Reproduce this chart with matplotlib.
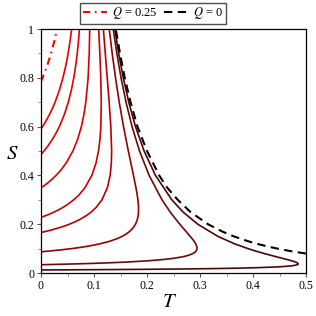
import matplotlib
matplotlib.use("Agg")
import matplotlib.pyplot as plt

plt.rcParams['font.family'] = ['Liberation Serif', 'DejaVu Serif']
plt.rcParams['mathtext.fontset'] = 'stix'

# Q = 0 (black dashed)
S_q0 = [0.0796, 0.09, 0.1, 0.11, 0.12, 0.13, 0.15, 0.17, 0.2, 0.25, 0.3, 0.35, 0.4, 0.5, 0.6, 0.7, 0.8, 0.9, 1.0]
T_q0 = [0.5, 0.470, 0.446, 0.425, 0.407, 0.391, 0.364, 0.342, 0.315, 0.282, 0.258, 0.238, 0.223, 0.200, 0.182, 0.169, 0.158, 0.149, 0.141]

# Q = 0.25 (red dash-dot)
S_q25 = [0.785, 0.8, 0.85, 0.9, 0.95, 1.0]
T_q25 = [0.0, 0.003, 0.0117, 0.019, 0.0251, 0.0303]

# solid family
S_1 = [0.59, 0.6, 0.62, 0.65, 0.675, 0.7, 0.75, 0.8, 0.85, 0.9, 0.95, 1.0]
T_1 = [0.0, 0.0030, 0.0087, 0.0161, 0.0216, 0.0265, 0.0348, 0.0414, 0.0468, 0.0512, 0.0548, 0.0579]

S_2 = [0.486, 0.49, 0.5, 0.52, 0.55, 0.575, 0.6, 0.65, 0.7, 0.75, 0.8, 0.85, 0.9, 0.95, 1.0]
T_2 = [0.0, 0.0017, 0.0056, 0.0128, 0.0221, 0.0288, 0.0346, 0.0441, 0.0515, 0.0573, 0.0619, 0.0655, 0.0684, 0.0707, 0.0725]

S_3 = [0.349, 0.353, 0.36, 0.37, 0.38, 0.4, 0.42, 0.45, 0.5, 0.55, 0.6, 0.65, 0.7, 0.8, 0.9, 1.0]
T_3 = [0.0, 0.0027, 0.0072, 0.0132, 0.0187, 0.0284, 0.0368, 0.0472, 0.0602, 0.0695, 0.0762, 0.0810, 0.0845, 0.0889, 0.0910, 0.0919]

S_4 = [0.228, 0.232, 0.24, 0.25, 0.26, 0.27, 0.28, 0.3, 0.32, 0.35, 0.4, 0.45, 0.5, 0.55, 0.6, 0.7, 0.8, 0.9, 1.0]
T_4 = [0.0, 0.0050, 0.0144, 0.0248, 0.0340, 0.0422, 0.0495, 0.0618, 0.0717, 0.0831, 0.0959, 0.1037, 0.1085, 0.1114, 0.1129, 0.1137, 0.1128, 0.1110, 0.1089]

S_5 = [0.166, 0.168, 0.17, 0.175, 0.18, 0.19, 0.2, 0.21, 0.22, 0.235, 0.25, 0.27, 0.3, 0.35, 0.4, 0.45, 0.5, 0.6, 0.7, 0.8, 0.9, 1.0]
T_5 = [0.0, 0.0041, 0.0080, 0.0173, 0.0259, 0.0409, 0.0536, 0.0645, 0.0738, 0.0854, 0.0948, 0.1046, 0.1150, 0.1253, 0.1305, 0.1327, 0.1333, 0.1317, 0.1286, 0.1250, 0.1213, 0.1177]

S_6 = [0.087, 0.09, 0.095, 0.1, 0.105, 0.11, 0.115, 0.12, 0.13, 0.14, 0.15, 0.16, 0.17, 0.18, 0.19, 0.2, 0.21, 0.22, 0.235, 0.25, 0.27, 0.285, 0.3, 0.325, 0.35, 0.4, 0.5, 0.6, 0.7, 0.8, 0.9, 1.0]
T_6 = [0.0, 0.0157, 0.0385, 0.0580, 0.0746, 0.0889, 0.1013, 0.1120, 0.1294, 0.1427, 0.1530, 0.1609, 0.1670, 0.1718, 0.1754, 0.1782, 0.1803, 0.1818, 0.1833, 0.1839, 0.1840, 0.1835, 0.1828, 0.1812, 0.1791, 0.1745, 0.1648, 0.1557, 0.1476, 0.1406, 0.1343, 0.1288]

S_7 = [0.034, 0.0345, 0.035, 0.036, 0.038, 0.04, 0.042, 0.045, 0.05, 0.055, 0.06, 0.065, 0.07, 0.075, 0.08, 0.085, 0.09, 0.095, 0.1, 0.105, 0.11, 0.12, 0.13, 0.15, 0.175, 0.2, 0.25, 0.3, 0.4, 0.5, 0.6, 0.7, 0.8, 0.9, 1.0]
T_7 = [0.0, 0.0110, 0.0216, 0.0413, 0.0762, 0.1058, 0.1311, 0.1625, 0.2019, 0.2296, 0.2495, 0.2639, 0.2742, 0.2816, 0.2868, 0.2903, 0.2926, 0.2938, 0.2944, 0.2943, 0.2938, 0.2918, 0.2890, 0.2816, 0.2717, 0.2618, 0.2437, 0.2283, 0.2040, 0.1859, 0.1718, 0.1604, 0.1510, 0.1431, 0.1363]

S_8 = [0.0125, 0.0127, 0.013, 0.0135, 0.014, 0.015, 0.016, 0.017, 0.018, 0.019, 0.02, 0.022, 0.025, 0.028, 0.03, 0.033, 0.036, 0.04, 0.045, 0.05, 0.055, 0.06, 0.065, 0.07, 0.08, 0.09, 0.1, 0.12, 0.15, 0.2, 0.25, 0.3, 0.4, 0.5, 0.6, 0.7, 0.8, 0.9, 1.0]
T_8 = [0.0, 0.0197, 0.0476, 0.0900, 0.1277, 0.1920, 0.2440, 0.2864, 0.3213, 0.3501, 0.3740, 0.4107, 0.4461, 0.4666, 0.4751, 0.4824, 0.4852, 0.4849, 0.4802, 0.4731, 0.4647, 0.4559, 0.4469, 0.4380, 0.4208, 0.4049, 0.3903, 0.3648, 0.3339, 0.2957, 0.2680, 0.2468, 0.2160, 0.1945, 0.1783, 0.1656, 0.1552, 0.1466, 0.1393]

x_ticks = [0, 0.1, 0.2, 0.3, 0.4, 0.5]
x_ticklabels = ['0', '0.1', '0.2', '0.3', '0.4', '0.5']
y_ticks = [0, 0.2, 0.4, 0.6, 0.8, 1.0]
y_ticklabels = ['0', '0.2', '0.4', '0.6', '0.8', '1']

solid_S = [S_1, S_2, S_3, S_4, S_5, S_6, S_7, S_8]
solid_T = [T_1, T_2, T_3, T_4, T_5, T_6, T_7, T_8]
solid_colors = ['#e60000', '#e00000', '#d80000', '#cc0000', '#b80000', '#960000', '#6c0a0a', '#4a0808']

fig = plt.figure(figsize=(3.16, 3.16), dpi=100)
ax = fig.add_axes([41/316, 1 - 273/316, 265/316, 244/316])

for s, t, c in zip(solid_S, solid_T, solid_colors):
    ax.plot(t, s, color=c, lw=1.2, solid_joinstyle='round')

l1, = ax.plot(T_q25, S_q25, color='#ff0000', lw=1.5, dashes=(3.5, 2.2, 0.8, 2.2))
l2, = ax.plot(T_q0, S_q0, color='black', lw=1.5, dashes=(4, 2.6))

ax.set_xlim(0, 0.5)
ax.set_ylim(0, 1)
ax.set_xticks(x_ticks)
ax.set_xticklabels(x_ticklabels)
ax.set_yticks(y_ticks)
ax.set_yticklabels(y_ticklabels)
ax.set_xticks([0.05, 0.15, 0.25, 0.35, 0.45], minor=True)
ax.set_yticks([0.1, 0.3, 0.5, 0.7, 0.9], minor=True)
ax.tick_params(which='major', direction='out', length=3, width=0.8, color='#555555',
               labelsize=8.5, pad=2)
ax.tick_params(which='minor', direction='out', length=2, width=0.6, color='#777777')
for sp in ax.spines.values():
    sp.set_linewidth(0.9)
    sp.set_color('black')

ax.text(-0.109, 0.484, r'$S$', transform=ax.transAxes, fontsize=15,
        ha='center', va='center')
ax.text(0.487, -0.119, r'$T$', transform=ax.transAxes, fontsize=15,
        ha='center', va='center')

leg = fig.legend([l1, l2], [r'$Q$ = 0.25', r'$Q$ = 0'], ncol=2,
                 loc='center', bbox_to_anchor=(153/316, 1 - 13/316),
                 fontsize=9, frameon=True, fancybox=False, handlelength=1.9,
                 handletextpad=0.45, columnspacing=0.45, borderpad=0.2,
                 borderaxespad=0)
leg.get_frame().set_edgecolor('#222222')
leg.get_frame().set_linewidth(1.0)

fig.savefig('out.png', dpi=100)
